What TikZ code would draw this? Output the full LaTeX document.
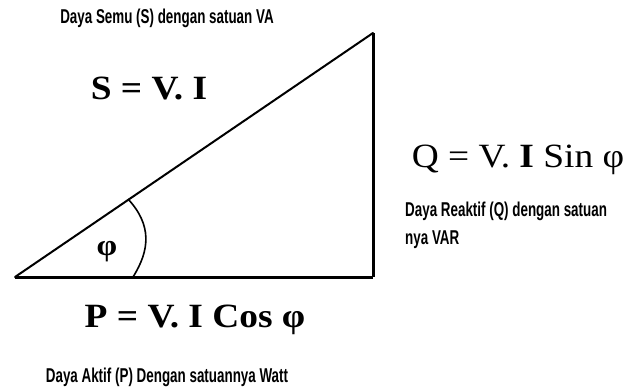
\documentclass[tikz,border=0pt]{standalone}
\usepackage{fontspec}
\setmainfont{Liberation Serif}
\newfontfamily\notefont[FakeStretch=0.67]{Liberation Sans Bold}
\newfontfamily\formfont[FakeStretch=1.1]{Liberation Serif}
\begin{document}
\begin{tikzpicture}[x=1pt,y=-1pt,
  note/.style={font=\notefont\fontsize{20}{24}\selectfont, inner sep=0pt},
  formula/.style={font=\formfont\fontsize{34}{38}\selectfont, inner sep=0pt},
  side/.style={line width=3pt},
  hyp/.style={line width=2pt}]
\useasboundingbox (0,0) rectangle (626,388);
\coordinate (A) at (15,277);
\coordinate (B) at (373,277);
\coordinate (C) at (373,33);
\coordinate (a1) at (133,277);
\coordinate (a2) at (128,199);
\draw[hyp, line cap=round] (A) -- (C);
\draw[side] (A) -- (B);
\draw[side] (B) -- (C);
\draw[line width=1.6pt] (a1) .. controls (150,250) and (152,225) .. (a2);
\node[note] (ts) at (167,18) {Daya Semu (S) dengan satuan VA};
\node[formula, font=\formfont\bfseries\fontsize{34}{38}\selectfont] (fs) at (149,88) {S = V. I};
\node[formula] (fq) at (518,160) {Q = V. \textbf{I} Sin φ};
\node[note, anchor=west] (tq1) at (405,211) {Daya Reaktif (Q) dengan satuan};
\node[note, anchor=west] (tq2) at (405,240) {nya VAR};
\node[font=\formfont\bfseries\fontsize{30}{32}\selectfont, inner sep=0pt] (phi) at (107,252) {φ};
\node[formula, font=\formfont\bfseries\fontsize{34}{38}\selectfont] (fp) at (195,320) {P = V. I Cos φ};
\node[note] (tp) at (167,377) {Daya Aktif (P) Dengan satuannya Watt};
\end{tikzpicture}
\end{document}
